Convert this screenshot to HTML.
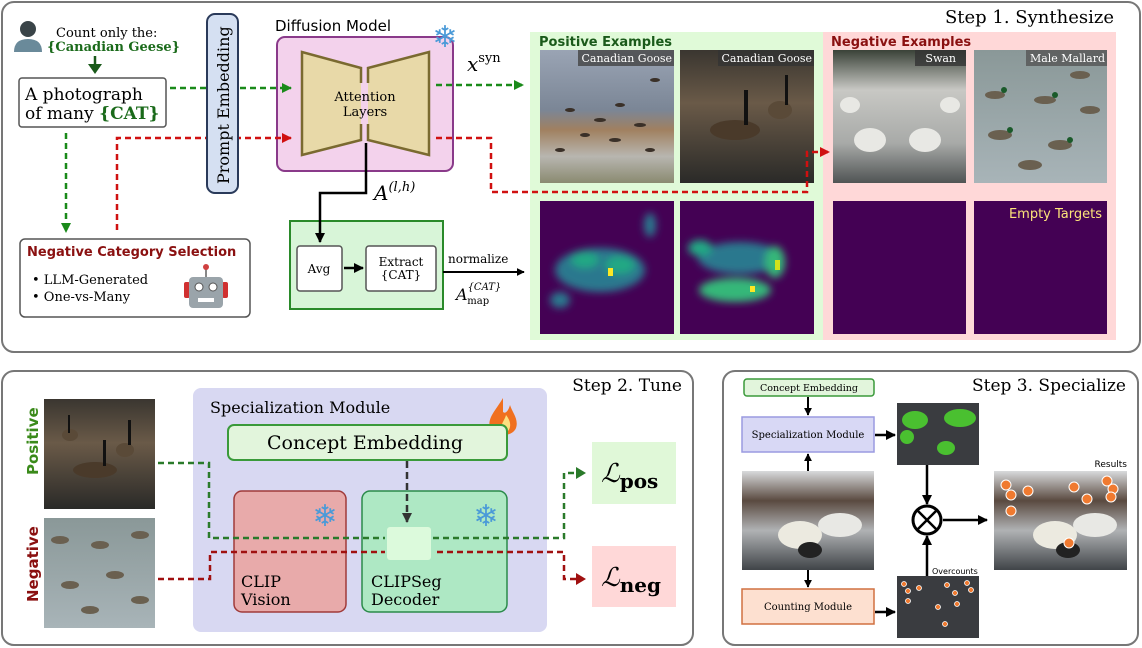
<!DOCTYPE html>
<html><head><meta charset="utf-8"><style>
html,body{margin:0;padding:0;background:#fff;}
svg{display:block;}
.s{font-family:"DejaVu Serif","Liberation Serif",serif;}
.ss{font-family:"DejaVu Sans","Liberation Sans",sans-serif;}
</style></head><body>
<svg width="1142" height="648" viewBox="0 0 1142 648" xmlns="http://www.w3.org/2000/svg">
<defs>
<marker id="ag" viewBox="0 0 10 10" refX="9" refY="5" markerWidth="4" markerHeight="4" orient="auto"><path d="M0,0L10,5L0,10z" fill="#1a8a1a"/></marker>
<marker id="ar" viewBox="0 0 10 10" refX="9" refY="5" markerWidth="4" markerHeight="4" orient="auto"><path d="M0,0L10,5L0,10z" fill="#d01010"/></marker>
<marker id="ak" viewBox="0 0 10 10" refX="9" refY="5" markerWidth="4" markerHeight="4" orient="auto"><path d="M0,0L10,5L0,10z" fill="#000"/></marker>
<marker id="ak2" viewBox="0 0 10 10" refX="9" refY="5" markerWidth="4" markerHeight="4" orient="auto"><path d="M0,0L10,5L0,10z" fill="#333"/></marker>
<linearGradient id="sky" x1="0" y1="0" x2="0" y2="1"><stop offset="0" stop-color="#9aa4b4"/><stop offset=".45" stop-color="#7b8696"/><stop offset=".6" stop-color="#a08060"/><stop offset=".8" stop-color="#b8b6b0"/><stop offset="1" stop-color="#8a8a70"/></linearGradient>
<linearGradient id="lake" x1="0" y1="0" x2="0" y2="1"><stop offset="0" stop-color="#3a3630"/><stop offset=".4" stop-color="#6a5a48"/><stop offset="1" stop-color="#2a2a28"/></linearGradient>
<linearGradient id="swan" x1="0" y1="0" x2="0" y2="1"><stop offset="0" stop-color="#3a4238"/><stop offset=".3" stop-color="#c8c8c4"/><stop offset=".7" stop-color="#a8aaa8"/><stop offset="1" stop-color="#505454"/></linearGradient>
<linearGradient id="duck" x1="0" y1="0" x2="0" y2="1"><stop offset="0" stop-color="#8a9898"/><stop offset="1" stop-color="#a8b4b8"/></linearGradient>
<linearGradient id="sw3" x1="0" y1="0" x2="0" y2="1"><stop offset="0" stop-color="#d8dadc"/><stop offset=".3" stop-color="#5a4a40"/><stop offset=".6" stop-color="#b0b2b4"/><stop offset="1" stop-color="#404448"/></linearGradient>
<filter id="bl"><feGaussianBlur stdDeviation="4"/></filter>
</defs>

<!-- panels -->
<rect x="2" y="2" width="1138" height="350" rx="12" fill="#fff" stroke="#777" stroke-width="2"/>
<rect x="2" y="371" width="691" height="274" rx="12" fill="#fff" stroke="#777" stroke-width="2"/>
<rect x="723" y="371" width="415" height="274" rx="12" fill="#fff" stroke="#777" stroke-width="2"/>

<text x="1114" y="23" text-anchor="end" class="s" font-size="18">Step 1. Synthesize</text>
<text x="682" y="391" text-anchor="end" class="s" font-size="17">Step 2. Tune</text>
<text x="1126" y="391" text-anchor="end" class="s" font-size="17">Step 3. Specialize</text>

<!-- STEP 1 left part -->
<circle cx="28" cy="29" r="8" fill="#3a4448"/>
<path d="M14,52 Q14,39 28,39 Q42,39 42,52 Z" fill="#6a8a9a"/>
<text x="56" y="37" class="s" font-size="13">Count only the:</text>
<text x="47" y="51" class="s" font-size="13" font-weight="bold" fill="#1a6a1a">{Canadian Geese}</text>
<line x1="95" y1="56" x2="95" y2="66" stroke="#1a5a1a" stroke-width="2.5"/>
<path d="M88,64 L102,64 L95,74 Z" fill="#1a5a1a"/>
<rect x="19" y="78" width="147" height="49" rx="3" fill="#fff" stroke="#555" stroke-width="1.5"/>
<text x="25" y="100" class="s" font-size="17">A photograph</text>
<text x="25" y="119" class="s" font-size="17">of many <tspan font-weight="bold" fill="#1a6a1a">{CAT}</tspan></text>

<text x="275" y="31" class="ss" font-size="15">Diffusion Model</text>
<rect x="277" y="37" width="176" height="134" rx="8" fill="#f3d2ec" stroke="#8a3a8a" stroke-width="2"/>
<polygon points="302,52 361,68 361,140 302,155" fill="#e8d9a8"/>
<polygon points="429,52 368,68 368,140 429,155" fill="#e8d9a8"/>
<path d="M361,83 L361,68 L302,52 L302,155 L361,140 L361,124" fill="none" stroke="#7a6a30" stroke-width="2.5"/>
<path d="M368,83 L368,68 L429,52 L429,155 L368,140 L368,124" fill="none" stroke="#7a6a30" stroke-width="2.5"/>
<text x="365" y="101" text-anchor="middle" class="s" font-size="13">Attention</text>
<text x="365" y="116" text-anchor="middle" class="s" font-size="13">Layers</text>
<text x="445" y="47" text-anchor="middle" font-size="30" fill="#4a9ad8" class="ss">❄</text>

<text x="467" y="71" class="s" font-size="20" font-style="italic">x<tspan font-size="13" dy="-9" font-style="normal">syn</tspan></text>
<text x="374" y="200" class="s" font-size="20" font-style="italic">A<tspan font-size="13" dy="-9">(l,h)</tspan></text>

<rect x="290" y="221" width="153" height="88" fill="#d8f5d8" stroke="#2a8a2a" stroke-width="2"/>
<rect x="297" y="246" width="45" height="45" rx="3" fill="#fff" stroke="#555" stroke-width="1.5"/>
<text x="319" y="273" text-anchor="middle" class="s" font-size="12">Avg</text>
<rect x="366" y="246" width="70" height="45" rx="3" fill="#fff" stroke="#555" stroke-width="1.5"/>
<text x="401" y="266" text-anchor="middle" class="s" font-size="12">Extract</text>
<text x="401" y="279" text-anchor="middle" class="s" font-size="12">{CAT}</text>
<text x="448" y="263" class="s" font-size="12">normalize</text>
<text x="456" y="300" class="s" font-size="16" font-style="italic">A<tspan font-size="10" dy="-10">{CAT}</tspan><tspan font-size="10" dx="-34" dy="14" font-style="normal">map</tspan></text>

<rect x="20" y="239" width="230" height="78" rx="5" fill="#fff" stroke="#555" stroke-width="1.5"/>
<text x="27" y="256" class="ss" font-size="13" font-weight="bold" fill="#8a1010">Negative Category Selection</text>
<text x="32" y="284" class="s" font-size="13">• LLM-Generated</text>
<text x="32" y="301" class="s" font-size="13">• One-vs-Many</text>
<line x1="206" y1="268" x2="206" y2="278" stroke="#888" stroke-width="2"/>
<circle cx="206" cy="267" r="3" fill="#d04040"/>
<rect x="184" y="282" width="6" height="16" rx="2" fill="#d03030"/>
<rect x="222" y="282" width="6" height="16" rx="2" fill="#d03030"/>
<rect x="189" y="277" width="34" height="31" rx="4" fill="#9aa4aa"/>
<circle cx="199" cy="287" r="4" fill="#fff" stroke="#555"/>
<circle cx="213" cy="287" r="4" fill="#fff" stroke="#555"/>
<rect x="198" y="298" width="16" height="4" fill="#fff"/>

<!-- examples panels -->
<rect x="530" y="32" width="293" height="308" fill="#e0fad8"/>
<rect x="823" y="32" width="293" height="308" fill="#ffd8d8"/>
<text x="539" y="46" class="ss" font-size="13" font-weight="bold" fill="#1a5a1a">Positive Examples</text>
<text x="831" y="46" class="ss" font-size="13" font-weight="bold" fill="#8a1010">Negative Examples</text>

<rect x="540" y="50" width="134" height="133" fill="url(#sky)"/>
<g fill="#3a3028"><ellipse cx="570" cy="110" rx="5" ry="2"/><ellipse cx="600" cy="120" rx="6" ry="2"/><ellipse cx="620" cy="105" rx="5" ry="2"/><ellipse cx="640" cy="125" rx="6" ry="2"/><ellipse cx="585" cy="135" rx="5" ry="2"/><ellipse cx="615" cy="140" rx="6" ry="2"/><ellipse cx="655" cy="80" rx="5" ry="2"/><ellipse cx="560" cy="150" rx="5" ry="2"/><ellipse cx="650" cy="150" rx="5" ry="2"/></g>
<rect x="680" y="50" width="134" height="133" fill="url(#lake)"/>
<ellipse cx="735" cy="130" rx="25" ry="10" fill="#4a3a2a"/><rect x="744" y="90" width="4" height="35" fill="#111"/>
<ellipse cx="780" cy="110" rx="12" ry="9" fill="#5a4a38"/><rect x="785" y="75" width="3" height="30" fill="#111"/>
<rect x="833" y="50" width="133" height="133" fill="url(#swan)"/>
<g fill="#e8e8e4"><ellipse cx="870" cy="140" rx="16" ry="12"/><ellipse cx="925" cy="140" rx="16" ry="12"/><ellipse cx="850" cy="105" rx="10" ry="8"/><ellipse cx="950" cy="105" rx="10" ry="8"/></g>
<rect x="974" y="50" width="133" height="133" fill="url(#duck)"/>
<g fill="#6a6050"><ellipse cx="995" cy="95" rx="10" ry="4"/><ellipse cx="1045" cy="100" rx="11" ry="4"/><ellipse cx="1090" cy="110" rx="10" ry="4"/><ellipse cx="1000" cy="135" rx="12" ry="5"/><ellipse cx="1060" cy="145" rx="12" ry="5"/><ellipse cx="1030" cy="165" rx="12" ry="5"/><ellipse cx="1080" cy="75" rx="10" ry="4"/></g>
<g fill="#1a5a2a"><circle cx="1004" cy="90" r="3"/><circle cx="1055" cy="95" r="3"/><circle cx="1010" cy="130" r="3"/><circle cx="1070" cy="140" r="3"/></g>
<g class="s" font-size="11" fill="#fff">
<rect x="578" y="50" width="96" height="16" fill="#444" opacity=".8"/><text x="672" y="62" text-anchor="end">Canadian Goose</text>
<rect x="718" y="50" width="96" height="16" fill="#333" opacity=".8"/><text x="812" y="62" text-anchor="end">Canadian Goose</text>
<rect x="915" y="50" width="51" height="16" fill="#333" opacity=".8"/><text x="956" y="62" text-anchor="end">Swan</text>
<rect x="1026" y="50" width="81" height="16" fill="#555" opacity=".8"/><text x="1105" y="62" text-anchor="end">Male Mallard</text>
</g>
<rect x="540" y="201" width="134" height="133" fill="#440154"/>
<g filter="url(#bl)"><ellipse cx="600" cy="270" rx="45" ry="22" fill="#2a788e"/><ellipse cx="585" cy="260" rx="14" ry="8" fill="#22a884"/><ellipse cx="620" cy="265" rx="15" ry="9" fill="#22a884"/><ellipse cx="650" cy="225" rx="6" ry="12" fill="#2a788e"/><ellipse cx="560" cy="300" rx="10" ry="8" fill="#2a788e"/></g>
<rect x="608" y="268" width="5" height="8" fill="#fde725"/>
<rect x="680" y="201" width="134" height="133" fill="#440154"/>
<g filter="url(#bl)"><ellipse cx="740" cy="258" rx="42" ry="16" fill="#2a788e"/><ellipse cx="735" cy="290" rx="36" ry="12" fill="#35b779"/><ellipse cx="775" cy="262" rx="10" ry="16" fill="#35b779"/><ellipse cx="700" cy="248" rx="12" ry="8" fill="#22a884"/></g>
<rect x="750" y="286" width="5" height="6" fill="#fde725"/><rect x="775" y="260" width="5" height="10" fill="#d0e11c"/>
<rect x="833" y="201" width="133" height="133" fill="#440154"/>
<rect x="974" y="201" width="133" height="133" fill="#440154"/>
<text x="1102" y="218" text-anchor="end" class="ss" font-size="13" fill="#fde47a">Empty Targets</text>

<!-- top connectors (drawn after panels) -->
<path d="M170,88 L291,88" stroke="#1a8a1a" stroke-width="2.5" stroke-dasharray="6,4" fill="none" marker-end="url(#ag)"/>
<path d="M117,230 L117,138 L291,138" stroke="#d01010" stroke-width="2.5" stroke-dasharray="6,4" fill="none" marker-end="url(#ar)"/>
<path d="M66,133 L66,232" stroke="#1a8a1a" stroke-width="2.5" stroke-dasharray="6,4" fill="none" marker-end="url(#ag)"/>
<path d="M436,85 L523,85" stroke="#1a8a1a" stroke-width="2.5" stroke-dasharray="6,4" fill="none" marker-end="url(#ag)"/>
<path d="M436,138 L491,138 L491,192 L807,192 L807,152 L829,152" stroke="#d01010" stroke-width="2.5" stroke-dasharray="6,4" fill="none" marker-end="url(#ar)"/>
<path d="M366,143 L366,193 L320,193 L320,242" stroke="#000" stroke-width="2.5" fill="none" marker-end="url(#ak)"/>
<line x1="344" y1="268" x2="363" y2="268" stroke="#000" stroke-width="2.5" marker-end="url(#ak)"/>
<line x1="443" y1="272" x2="524" y2="272" stroke="#000" stroke-width="2" marker-end="url(#ak)"/>

<rect x="207" y="14" width="31" height="179" rx="8" fill="#d5e0f2" stroke="#2a3a5a" stroke-width="2"/>
<text transform="translate(229,184) rotate(-90)" class="s" font-size="16">Prompt Embedding</text>

<!-- STEP 2 -->
<rect x="44" y="399" width="111" height="110" fill="url(#lake)"/>
<ellipse cx="95" cy="470" rx="22" ry="8" fill="#4a3a2a"/><rect x="103" y="440" width="3" height="26" fill="#111"/>
<ellipse cx="125" cy="450" rx="9" ry="7" fill="#5a4a38"/><rect x="128" y="420" width="3" height="25" fill="#111"/>
<ellipse cx="70" cy="435" rx="8" ry="6" fill="#5a4a38"/><rect x="68" y="415" width="2" height="18" fill="#111"/>
<rect x="44" y="518" width="111" height="110" fill="url(#duck)"/>
<g fill="#6a6050"><ellipse cx="60" cy="540" rx="9" ry="4"/><ellipse cx="100" cy="545" rx="9" ry="4"/><ellipse cx="140" cy="535" rx="9" ry="4"/><ellipse cx="70" cy="585" rx="9" ry="4"/><ellipse cx="115" cy="575" rx="9" ry="4"/><ellipse cx="90" cy="610" rx="9" ry="4"/><ellipse cx="140" cy="600" rx="9" ry="4"/></g>
<text transform="translate(38,475) rotate(-90)" class="ss" font-size="15" font-weight="bold" fill="#3a8a1a">Positive</text>
<text transform="translate(38,602) rotate(-90)" class="ss" font-size="15" font-weight="bold" fill="#8a1010">Negative</text>

<rect x="193" y="388" width="354" height="244" rx="8" fill="#d8d8f2"/>
<text x="210" y="413" class="s" font-size="16">Specialization Module</text>
<path d="M503,398 C496,410 487,418 490,428 C493,437 512,438 516,428 C519,419 512,412 510,405 C508,412 505,414 503,412 Z" fill="#f07020"/>
<path d="M502,430 C500,424 505,420 506,415 C510,420 512,426 508,431 Z" fill="#fce080"/>
<rect x="228" y="425" width="279" height="35" rx="6" fill="#e2f5dc" stroke="#3a9a3a" stroke-width="2"/>
<text x="365" y="449" text-anchor="middle" class="s" font-size="19">Concept Embedding</text>
<rect x="234" y="491" width="112" height="121" rx="8" fill="#e8aaaa" stroke="#a03a3a" stroke-width="1.5"/>
<text x="241" y="587" class="s" font-size="16">CLIP</text><text x="241" y="605" class="s" font-size="16">Vision</text>
<rect x="362" y="491" width="145" height="121" rx="8" fill="#aee8c4" stroke="#2a8a4a" stroke-width="1.5"/>
<text x="371" y="587" class="s" font-size="16">CLIPSeg</text><text x="371" y="605" class="s" font-size="16">Decoder</text>
<text x="325" y="526" text-anchor="middle" font-size="30" fill="#4a9ad8" class="ss">❄</text>
<text x="486" y="526" text-anchor="middle" font-size="30" fill="#4a9ad8" class="ss">❄</text>
<rect x="387" y="527" width="44" height="33" rx="3" fill="#dcfadc"/>
<path d="M407,461 L407,522" stroke="#333" stroke-width="2.5" stroke-dasharray="7,4" fill="none" marker-end="url(#ak2)"/>
<path d="M158,463 L209,463 L209,538 L385,538 M433,538 L564,538 L564,473 L578,473" stroke="#2a7a2a" stroke-width="2.5" stroke-dasharray="6,4" fill="none"/>
<path d="M576,467 L586,473 L576,479 Z" fill="#2a7a2a"/>
<path d="M158,579 L210,579 L210,552 L385,552 M437,552 L564,552 L564,579 L578,579" stroke="#a01010" stroke-width="2.5" stroke-dasharray="6,4" fill="none"/>
<path d="M576,573 L586,579 L576,585 Z" fill="#a01010"/>
<rect x="592" y="442" width="84" height="62" fill="#e0f8d8"/>
<rect x="592" y="546" width="84" height="61" fill="#ffd8d8"/>
<text x="601" y="482" class="s" font-size="26" font-style="italic">ℒ<tspan font-size="20" font-weight="bold" font-style="normal" dy="6">pos</tspan></text>
<text x="601" y="586" class="s" font-size="26" font-style="italic">ℒ<tspan font-size="20" font-weight="bold" font-style="normal" dy="6">neg</tspan></text>

<!-- STEP 3 -->
<rect x="744" y="379" width="130" height="17" rx="3" fill="#e2f5dc" stroke="#3a9a3a" stroke-width="1.5"/>
<text x="809" y="391" text-anchor="middle" class="s" font-size="9.5">Concept Embedding</text>
<line x1="808" y1="397" x2="808" y2="415" stroke="#000" stroke-width="2" marker-end="url(#ak)"/>
<rect x="742" y="417" width="132" height="35" fill="#d8d8f5" stroke="#9a9ae0" stroke-width="1.5"/>
<text x="808" y="438" text-anchor="middle" class="s" font-size="10">Specialization Module</text>
<line x1="808" y1="471" x2="808" y2="454" stroke="#000" stroke-width="2" marker-end="url(#ak)"/>
<rect x="742" y="471" width="132" height="99" fill="url(#sw3)"/>
<ellipse cx="800" cy="535" rx="22" ry="14" fill="#eceae0"/><ellipse cx="840" cy="525" rx="22" ry="12" fill="#e8e8e4"/><ellipse cx="810" cy="550" rx="12" ry="8" fill="#222"/>
<line x1="808" y1="570" x2="808" y2="587" stroke="#000" stroke-width="2" marker-end="url(#ak)"/>
<rect x="742" y="589" width="132" height="35" fill="#fde0d0" stroke="#d07040" stroke-width="1.5"/>
<text x="808" y="610" text-anchor="middle" class="s" font-size="10">Counting Module</text>
<line x1="875" y1="435" x2="895" y2="435" stroke="#000" stroke-width="2.5" marker-end="url(#ak)"/>
<line x1="875" y1="612" x2="895" y2="612" stroke="#000" stroke-width="2.5" marker-end="url(#ak)"/>
<rect x="897" y="403" width="82" height="62" fill="#3a3c40"/>
<g fill="#4ac030"><ellipse cx="915" cy="420" rx="13" ry="9"/><ellipse cx="960" cy="418" rx="16" ry="9"/><ellipse cx="946" cy="448" rx="9" ry="7"/><ellipse cx="907" cy="437" rx="7" ry="7"/></g>
<rect x="897" y="576" width="82" height="62" fill="#3a3c40"/>
<g fill="#f07a30" stroke="#fff" stroke-width=".8"><circle cx="904" cy="584" r="2.5"/><circle cx="908" cy="591" r="2.5"/><circle cx="919" cy="588" r="2.5"/><circle cx="908" cy="601" r="2.5"/><circle cx="947" cy="585" r="2.5"/><circle cx="955" cy="593" r="2.5"/><circle cx="967" cy="583" r="2.5"/><circle cx="971" cy="590" r="2.5"/><circle cx="957" cy="604" r="2.5"/><circle cx="938" cy="607" r="2.5"/><circle cx="945" cy="624" r="2.5"/></g>
<text x="932" y="574" class="ss" font-size="8">Overcounts</text>
<line x1="927" y1="465" x2="927" y2="504" stroke="#000" stroke-width="2.5" marker-end="url(#ak)"/>
<line x1="927" y1="576" x2="927" y2="536" stroke="#000" stroke-width="2.5" marker-end="url(#ak)"/>
<circle cx="927" cy="520" r="14" fill="#fff" stroke="#000" stroke-width="3"/>
<path d="M918,511 L936,529 M936,511 L918,529" stroke="#000" stroke-width="2.5"/>
<line x1="943" y1="520" x2="987" y2="520" stroke="#000" stroke-width="2.5" marker-end="url(#ak)"/>
<text x="1127" y="467" text-anchor="end" class="ss" font-size="9">Results</text>
<rect x="994" y="471" width="133" height="99" fill="url(#sw3)"/>
<ellipse cx="1055" cy="535" rx="22" ry="14" fill="#eceae0"/><ellipse cx="1095" cy="525" rx="22" ry="12" fill="#e8e8e4"/><ellipse cx="1068" cy="550" rx="12" ry="8" fill="#222"/>
<g fill="#f07a30" stroke="#fff" stroke-width="1"><circle cx="1006" cy="485" r="5"/><circle cx="1011" cy="495" r="5"/><circle cx="1028" cy="491" r="5"/><circle cx="1011" cy="511" r="5"/><circle cx="1074" cy="487" r="5"/><circle cx="1087" cy="499" r="5"/><circle cx="1107" cy="481" r="5"/><circle cx="1113" cy="489" r="5"/><circle cx="1111" cy="497" r="5"/><circle cx="1069" cy="543" r="5"/></g>
</svg>
</body></html>
